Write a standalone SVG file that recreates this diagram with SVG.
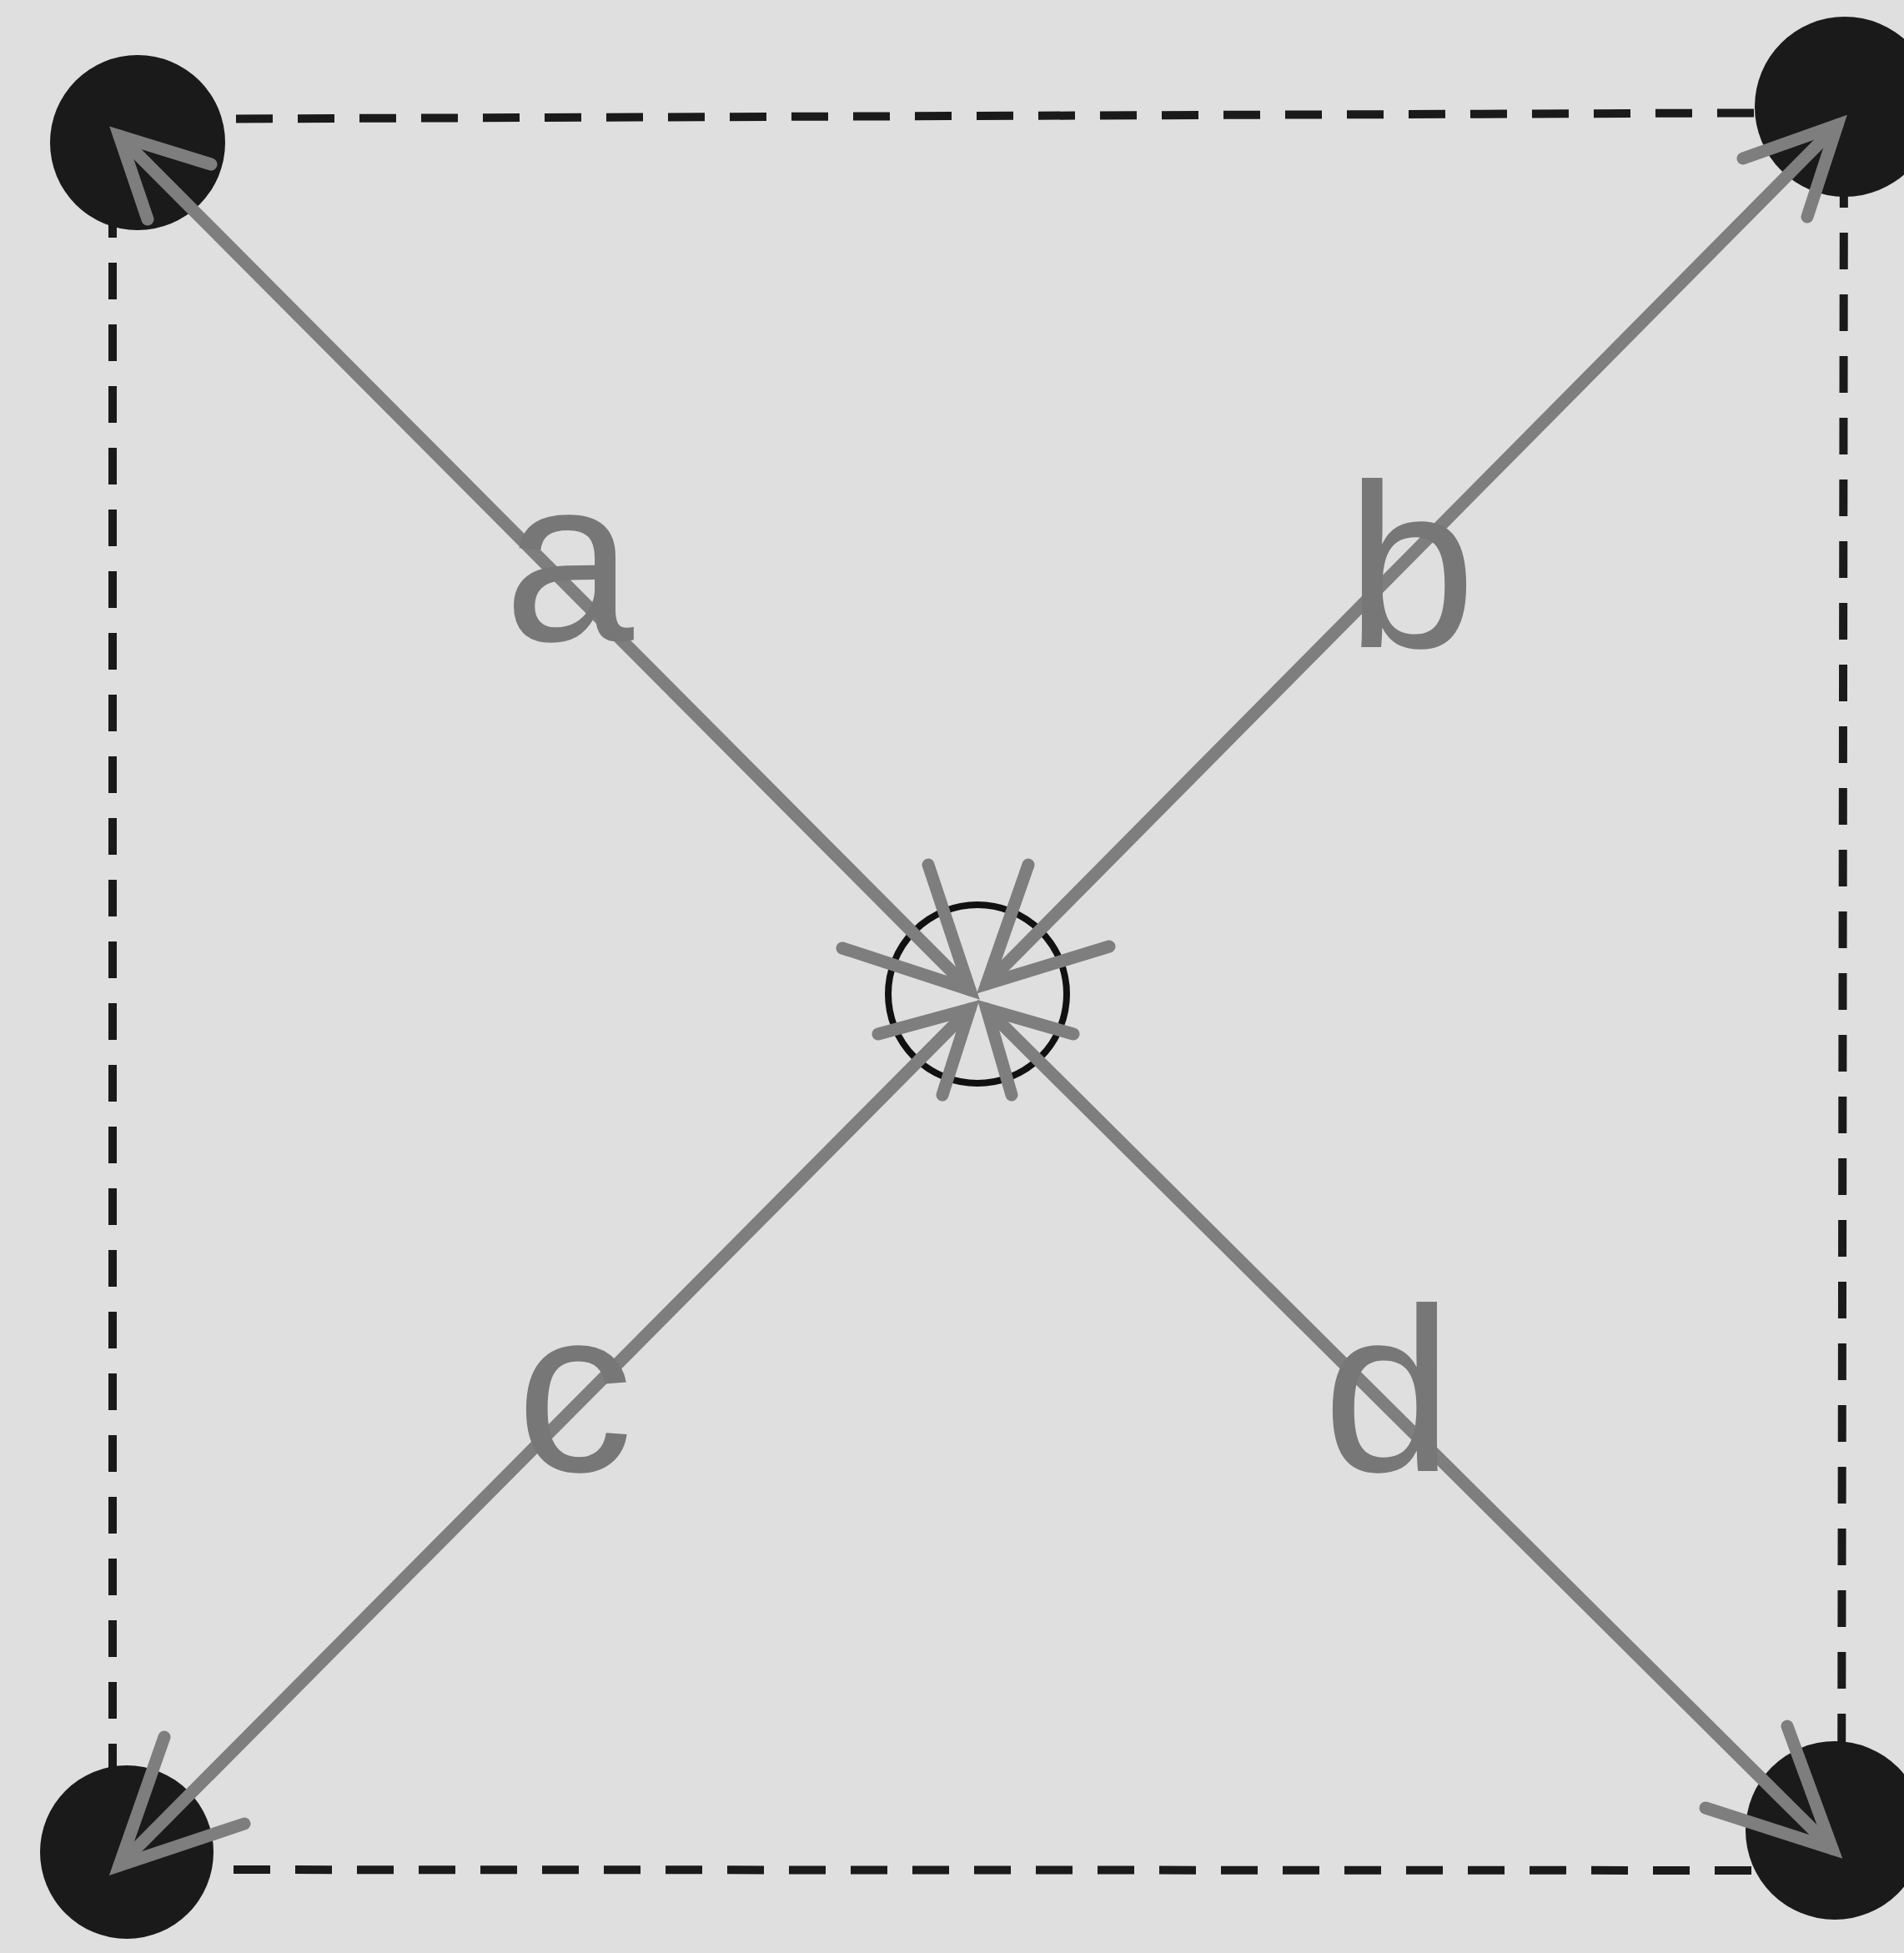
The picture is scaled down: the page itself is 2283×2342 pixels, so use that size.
<svg xmlns="http://www.w3.org/2000/svg" width="2283" height="2342" viewBox="0 0 2283 2342">
<style>
.bg{fill:#dfdfdf}
.frame{fill:none;stroke:#1a1a1a;stroke-width:10;stroke-dasharray:44 30}
.dot{fill:#1a1a1a}
.hub{fill:none;stroke:#111;stroke-width:8}
.edge{fill:none;stroke:#7e7e7e;stroke-width:15;stroke-linecap:round;stroke-linejoin:miter}
.lbl{font-family:"Liberation Sans",Arial,sans-serif;font-size:280px;fill:#777;text-anchor:middle}
</style>
<rect class="bg" x="0" y="0" width="2283" height="2342"/>
<path id="frame" class="frame" d="M135,143 L2211,135 L2208,2243 L135,2242 Z"/>
<g id="node-tl"><circle class="dot" cx="165" cy="171" r="105"/></g>
<g id="node-tr"><circle class="dot" cx="2212" cy="128" r="108"/></g>
<g id="node-bl"><circle class="dot" cx="152" cy="2221" r="104"/></g>
<g id="node-br"><circle class="dot" cx="2200" cy="2195" r="107"/></g>
<g id="node-center"><circle class="hub" cx="1172" cy="1192" r="107"/></g>
<g id="connectors">
<g id="edge-a">
<line class="edge" x1="1163" y1="1187" x2="143" y2="163"/>
<polyline class="edge" points="1113,1037 1163,1187 1010,1137"/>
<polyline class="edge" points="253,197 143,163 177,263"/>
</g>
<g id="edge-b">
<line class="edge" x1="1183" y1="1180" x2="2203" y2="150"/>
<polyline class="edge" points="1233,1037 1183,1180 1330,1135"/>
<polyline class="edge" points="2090,190 2203,150 2167,260"/>
</g>
<g id="edge-c">
<line class="edge" x1="1163" y1="1210" x2="143" y2="2237"/>
<polyline class="edge" points="1053,1240 1163,1210 1130,1313"/>
<polyline class="edge" points="197,2083 143,2237 293,2187"/>
</g>
<g id="edge-d">
<line class="edge" x1="1183" y1="1210" x2="2197" y2="2217"/>
<polyline class="edge" points="1287,1240 1183,1210 1213,1313"/>
<polyline class="edge" points="2143,2070 2197,2217 2045,2168"/>
</g>
</g>
<g id="labels">
<text class="lbl" x="682" y="768">a</text>
<text class="lbl" x="1692" y="776">b</text>
<text class="lbl" x="689" y="1764">c</text>
<text class="lbl" x="1664" y="1764">d</text>
</g>
</svg>
